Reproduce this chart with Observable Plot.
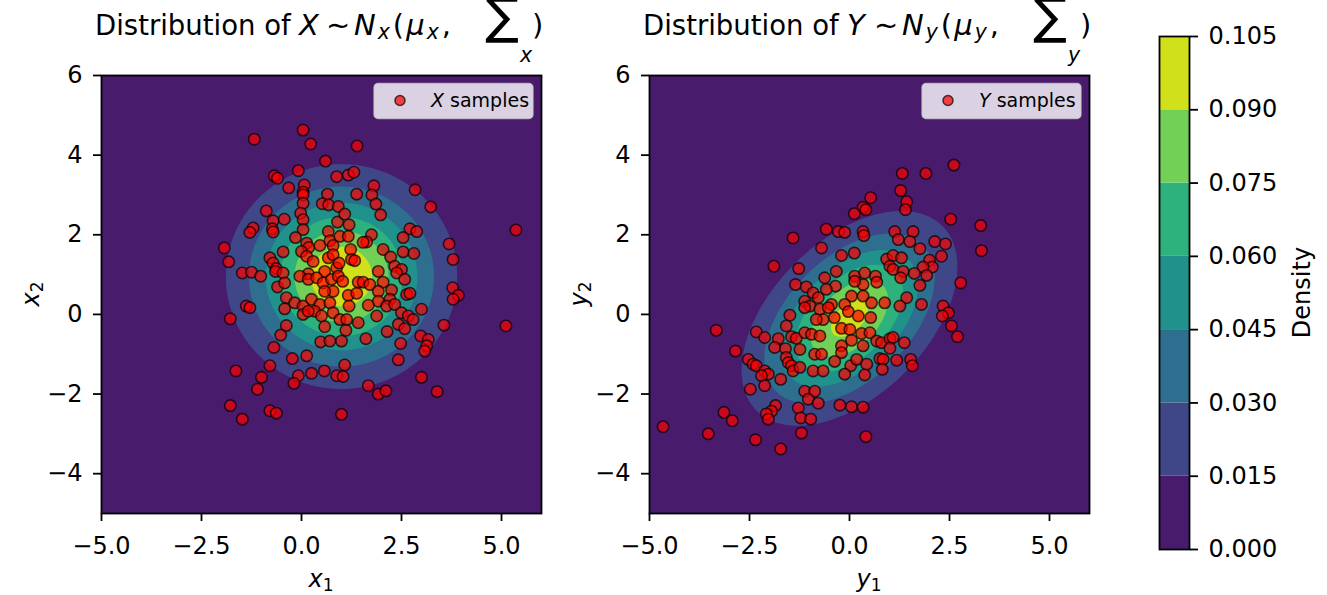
<!DOCTYPE html>
<html><head><meta charset="utf-8">
<script src="https://cdn.jsdelivr.net/npm/d3@7"></script>
<script src="https://cdn.jsdelivr.net/npm/@observablehq/plot@0.6"></script>
<style>
body{margin:0;background:#fff;}
#wrap{position:relative;width:1327px;height:595px;overflow:hidden;font-family:"DejaVu Sans";}
#wrap svg{position:absolute;}
</style></head><body><div id="wrap"></div>
<script>
// ---- data ----
const levels = [0, 0.015, 0.03, 0.045, 0.06, 0.075, 0.09, 0.105];
const xTicks = [-5, -2.5, 0, 2.5, 5];
const yTicks = [-4, -2, 0, 2, 4, 6];
const axisDomain = [-5, 6];
// density parameters
const muX = [1.0, 0.95];
const covX = [[2.17, 0], [0, 2.07]];
const peakX = 0.103;
const muY = [0.0, -0.1];
const covY = [[1.97, 0.95], [0.95, 1.97]];
const peakY = 0.095;

const xSamples = [
[0.04,4.63],[-1.18,4.4],[0.23,4.28],[0.6,3.85],[-0.08,3.61],[-0.68,3.48],[-0.6,3.42],[0.88,3.46],[-0.32,3.18],[0.07,3.25],[0.04,3.07],[0.04,3.0],[0.65,3.02],[0.04,2.79],[0.52,2.78],[0.68,2.75],[0.92,2.71],[-0.88,2.6],[-0.02,2.54],[0.04,2.38],[-0.71,2.35],[-0.43,2.39],[0.9,2.32],[-1.21,2.17],[-1.29,2.06],[-0.73,2.15],[-0.71,2.07],[0.04,2.13],[0.67,2.08],[-0.15,1.93],[0.13,1.79],[0.18,1.68],[0.46,1.73],[0.71,1.85],[0.79,1.73],[-1.93,1.67],[-0.46,1.57],[0,1.58],[0.13,1.46],[-1.82,1.32],[-0.79,1.42],[-0.71,1.29],[-0.63,1.15],[0.17,1.02],[0.58,1.08],[0.88,1.17],[0.29,1.33],[0.67,1.42],[0.79,1.5],
[1.39,4.23],[1.17,3.5],[1.31,3.57],[1.81,3.23],[1.76,3.0],[1.38,3.02],[2.84,3.13],[3.23,2.7],[1.86,2.77],[1.98,2.5],[5.36,2.12],[1.08,2.52],[1.19,2.25],[0.96,1.96],[1.17,1.96],[2.71,2.15],[2.88,2.08],[2.54,1.93],[3.69,1.77],[3.79,1.38],[1.75,2.0],[1.63,1.82],[1.54,1.81],[2.04,1.63],[2.23,1.44],[2.54,1.57],[2.81,1.53],[1.23,1.63],[1.25,1.38],[1.33,1.35],[0.94,1.29],[1.92,1.08],[2.33,1.21],[2.5,1.13],[2.38,1.04],
[-1.48,1.04],[-1.25,1.06],[-1.02,0.96],[-0.65,1.08],[-0.46,1.04],[-0.6,0.69],[-0.42,0.79],[-0.04,0.96],[0.17,0.88],[0.38,0.92],[0.54,0.79],[0.75,0.88],[0.92,0.96],[0.79,0.58],[0.58,0.58],[-1.38,0.21],[-1.29,0.17],[-1.78,-0.11],[-0.38,0.42],[-0.42,0.14],[-0.17,0.29],[0.04,0.21],[0.25,0.38],[0.46,0.25],[0.33,0.08],[0.5,-0.04],[0.71,0.29],[0.79,0.04],[0.04,0],[0.17,0.08],[-0.38,-0.28],[-0.52,-0.52],[0.58,-0.31],[0.96,-0.13],[0.48,-0.69],[0.71,-0.67],[-0.69,-0.83],[-0.23,-1.11],[0.13,-1.04],[-1.64,-1.42],[-0.79,-1.29],[-1.0,-1.58],[-1.1,-1.88],[-0.08,-1.54],[-0.19,-1.73],[0.25,-1.48],[0.57,-1.42],[0.88,-1.54],[-1.78,-2.29],[-1.48,-2.63],[-0.79,-2.42],[-0.63,-2.48],[1.0,-2.51],
[1.03,0.83],[1.42,0.81],[1.54,0.81],[1.71,0.75],[2.04,0.81],[2.58,0.88],[1.17,0.48],[1.38,0.53],[1.92,0.58],[2.25,0.61],[2.21,0.38],[1.92,0.33],[2.63,0.5],[2.71,0.53],[3.78,0.67],[3.92,0.48],[3.79,0.38],[1.19,0.21],[1.67,0.23],[2.13,0.21],[2.33,0.25],[3.0,0.13],[2.5,0.04],[2.67,-0.04],[2.79,-0.13],[1.88,-0.04],[1.13,-0.13],[1.42,-0.21],[2.42,-0.25],[2.58,-0.36],[3.56,-0.27],[5.11,-0.29],[1.11,-0.4],[1.0,-0.67],[1.61,-0.61],[2.14,-0.43],[2.48,-0.73],[2.98,-0.54],[3.17,-0.63],[3.13,-0.79],[3.08,-0.92],[2.42,-1.14],[3.0,-1.58],[1.67,-1.79],[1.92,-2.0],[2.11,-1.92],[3.39,-1.94],[1.04,-1.56],[1.08,-1.27]
];
const ySamples = [
[-1.41,1.92],[-0.7,1.67],[-0.58,2.14],[-1.89,1.21],[-1.27,1.15],[-1.35,0.75],[-1.08,0.69],[-0.91,0.54],[-0.78,0.42],[-0.62,0.92],[-1.12,0.33],[-0.99,0.21],
[2.61,3.75],[1.32,3.54],[1.91,3.54],[1.28,3.11],[1.43,2.83],[1.4,2.63],[0.53,2.93],[0.34,2.69],[0.41,2.63],[0.12,2.53],[2.53,2.39],[3.28,2.23],[3.3,1.6],[-0.28,2.08],[-0.12,2.06],[0.34,2.08],[0.36,1.98],[1.13,2.08],[1.22,1.88],[1.59,2.08],[1.51,1.83],[1.76,1.65],[2.13,1.83],[2.4,1.77],[-0.2,1.48],[0.12,1.54],[0.93,1.39],[1.09,1.48],[1.3,1.42],[2.3,1.46],[2.0,1.36],[2.07,1.19],[1.84,1.19],[1.01,1.21],[1.09,1.13],[1.34,1.08],[1.62,1.03],[1.93,0.98],[1.28,0.92],[1.76,0.73],[2.78,0.79],[-0.33,1.08],[-0.35,0.71],[-0.58,0.63],[0.13,0.96],[0.38,1.04],[0.65,0.96],[0.68,0.81],[0.34,0.75],[0.13,0.83],[0.05,0.46],[0.34,0.46],[0.55,0.29],[1.43,0.42],[-0.45,0.25],[-0.12,0.25],[0.88,0.29],[1.26,0.21],[1.8,0.25],[2.34,0.21],
[-3.33,-0.4],[-2.85,-0.92],[-2.33,-0.44],[-2.12,-0.58],[-1.49,-0.02],[-1.58,-0.29],[-1.78,-0.61],[-1.87,-0.83],[-1.45,-0.56],[-1.33,-0.6],[-1.12,0.17],[-0.74,0.13],[-0.66,-0.13],[-0.83,-0.13],[-1.12,-0.46],[-0.95,-0.5],[-0.74,-0.54],[-1.6,-0.86],[-1.24,-0.88],[-2.53,-1.13],[-2.41,-1.25],[-2.33,-1.29],[-2.12,-1.42],[-2.03,-1.5],[-2.2,-1.54],[-2.12,-1.79],[-1.72,-1.63],[-1.58,-1.08],[-1.53,-1.21],[-1.45,-1.29],[-1.41,-1.42],[-1.24,-1.33],[-0.87,-1.0],[-0.7,-1.0],[-0.91,-1.42],[-0.66,-1.42],[-2.48,-1.88],[-1.12,-1.93],[-0.87,-1.93],[-1.03,-2.13],[-0.78,-2.23],[-1.85,-2.29],[-1.95,-2.43],[-2.08,-2.5],[-2.03,-2.63],[-1.28,-2.35],[-1.22,-2.6],[-0.97,-2.63],[-3.14,-2.46],[-2.93,-2.67],[-4.66,-2.82],[-3.53,-3.0],[-2.35,-3.15],[-1.2,-2.98],[-1.72,-3.38],
[2.47,0.04],[2.32,-0.04],[2.55,-0.29],[2.7,-0.56],[-0.38,-0.08],[-0.03,0.07],[0.22,-0.04],[0.53,-0.08],[-0.2,-0.35],[0.01,-0.38],[0.05,-0.65],[0.3,-0.48],[0.51,-0.46],[0.34,-0.79],[0.68,-0.67],[0.8,-0.71],[1.01,-0.61],[1.09,-0.58],[1.01,-0.85],[1.37,-0.71],[-0.2,-0.79],[-0.2,-0.96],[-0.37,-1.18],[0.03,-1.29],[0.18,-1.13],[0.43,-1.25],[0.76,-1.11],[0.84,-1.13],[1.18,-1.15],[1.53,-1.13],[1.57,-1.29],[0.82,-1.38],[-0.12,-1.5],[0.38,-1.52],[-0.24,-2.28],[0.05,-2.32],[0.34,-2.33],[0.41,-3.07],[-0.53,0.17]
];

// ---- helpers ----
const maxLevel = levels[levels.length - 1];
const bandColors = levels.slice(0, -1).map((lo, i) => d3.interpolateViridis(((lo + levels[i + 1]) / 2) / maxLevel));
const colorScale = {type: "threshold", domain: levels.slice(1, -1), range: bandColors};
const baseStyle = {fontFamily: "DejaVu Sans", fontSize: "24px", color: "black", background: "transparent", overflow: "visible"};

function gaussField(mu, cov, peak) {
  const a = cov[0][0], b = cov[0][1], d = cov[1][1];
  const det = a * d - b * b;
  return (x, y) => {
    const dx = x - mu[0], dy = y - mu[1];
    return peak * Math.exp(-0.5 * (d * dx * dx - 2 * b * dx * dy + a * dy * dy) / det);
  };
}

function panel(samples, mu, cov, peak, left) {
  const svg = Plot.plot({
    width: 560, height: 595,
    marginLeft: 101, marginRight: 19, marginTop: 75, marginBottom: 82,
    x: {domain: axisDomain}, y: {domain: axisDomain},
    color: colorScale,
    style: baseStyle,
    marks: [
      Plot.frame({fill: bandColors[0]}),
      Plot.contour({value: gaussField(mu, cov, peak), fill: "value", stroke: "none",
        x1: axisDomain[0], y1: axisDomain[0], x2: axisDomain[1], y2: axisDomain[1], thresholds: levels}),
      Plot.dot(samples, {x: d => d[0], y: d => d[1], r: 5.7, fill: "red", fillOpacity: 0.7,
        stroke: "black", strokeOpacity: 0.7, strokeWidth: 1.6}),
      Plot.frame({stroke: "black", strokeWidth: 1.8}),
      Plot.axisX({ticks: xTicks, tickFormat: ".1f", tickSize: 8, tickPadding: 15, strokeWidth: 1.8, label: null}),
      Plot.axisY({ticks: yTicks, tickFormat: "d", tickSize: 8, tickPadding: 11, strokeWidth: 1.8, label: null})
    ]
  });
  svg.style.left = left + "px";
  svg.style.top = "0px";
  return svg;
}

const wrap = document.getElementById("wrap");
wrap.appendChild(panel(xSamples, muX, covX, peakX, 0));
wrap.appendChild(panel(ySamples, muY, covY, peakY, 548));

// colorbar
const bands = levels.slice(0, -1).map((lo, i) => ({lo, hi: levels[i + 1]}));
const cbar = Plot.plot({
  width: 187, height: 595,
  marginLeft: 19, marginRight: 138, marginTop: 36, marginBottom: 46,
  x: {domain: [0, 1], axis: null},
  y: {domain: [0, maxLevel]},
  color: colorScale,
  style: baseStyle,
  marks: [
    Plot.rect(bands, {x1: 0, x2: 1, y1: "lo", y2: "hi", fill: "lo"}),
    Plot.frame({stroke: "black", strokeWidth: 1.8}),
    Plot.axisY({anchor: "right", ticks: levels, tickFormat: ".3f", tickSize: 8, tickPadding: 11, strokeWidth: 1.8, label: null})
  ]
});
cbar.style.left = "1140px"; cbar.style.top = "0px";
wrap.appendChild(cbar);

// titles, labels, legends
function title(ox, L, s) {
  const p = (x) => ox + x;
  return `<text y="35" font-size="27.5" style="white-space:pre">` +
    `<tspan x="${p(95)}">Distribution of</tspan>` +
    `<tspan x="${p(299)}" font-size="29" font-style="italic">${L}</tspan>` +
    `<tspan x="${p(326)}" font-size="29">∼</tspan>` +
    `<tspan x="${p(354)}" font-size="29" font-style="italic">N</tspan>` +
    `<tspan dx="2" dy="4" font-size="20.5" font-style="italic">${s}</tspan>` +
    `<tspan dx="3" dy="-4" font-size="29">(</tspan>` +
    `<tspan dx="2" font-size="29" font-style="italic">μ</tspan>` +
    `<tspan dx="2" dy="4" font-size="20.5" font-style="italic">${s}</tspan>` +
    `<tspan dx="3" dy="-4" font-size="29">,</tspan>` +
    `<tspan x="${p(485)}" y="33" font-size="50">∑</tspan>` +
    `<tspan x="${p(520)}" y="62" font-size="20.5" font-style="italic">${s}</tspan>` +
    `<tspan x="${p(532)}" y="35" font-size="29">)</tspan>` +
    `</text>`;
}
function legend(x0, L) {
  return `<rect x="${x0}" y="83.5" width="159" height="35" rx="4" fill="white" fill-opacity="0.8" stroke="#cccccc" stroke-opacity="0.8" stroke-width="1.3"/>
  <circle cx="${x0 + 26}" cy="100.5" r="5" fill="red" fill-opacity="0.7" stroke="black" stroke-opacity="0.7" stroke-width="1.5"/>
  <text x="${x0 + 57}" y="107" font-size="19" style="white-space:pre"><tspan font-style="italic">${L}</tspan> samples</text>`;
}
function xlabel(cx, s, n) {
  return `<text x="${cx}" y="587" text-anchor="middle" font-size="24"><tspan font-style="italic">${s}</tspan><tspan font-size="17" dy="4">${n}</tspan></text>`;
}
function ylabel(bx, s, n) {
  return `<text transform="translate(${bx},294) rotate(-90)" text-anchor="middle" font-size="24"><tspan font-style="italic">${s}</tspan><tspan font-size="17" dy="4">${n}</tspan></text>`;
}
const overlay = `<svg width="1327" height="595" style="left:0;top:0;font-family:'DejaVu Sans';" xmlns="http://www.w3.org/2000/svg">
${title(0, "X", "x")}
${title(548, "Y", "y")}
${legend(374, "X")}
${legend(922, "Y")}
${xlabel(321, "x", "1")}
${xlabel(869, "y", "1")}
${ylabel(39, "x", "2")}
${ylabel(587, "y", "2")}
<text transform="translate(1310,292.5) rotate(-90)" text-anchor="middle" font-size="24">Density</text>
</svg>`;
wrap.insertAdjacentHTML("beforeend", overlay);
</script></body></html>
